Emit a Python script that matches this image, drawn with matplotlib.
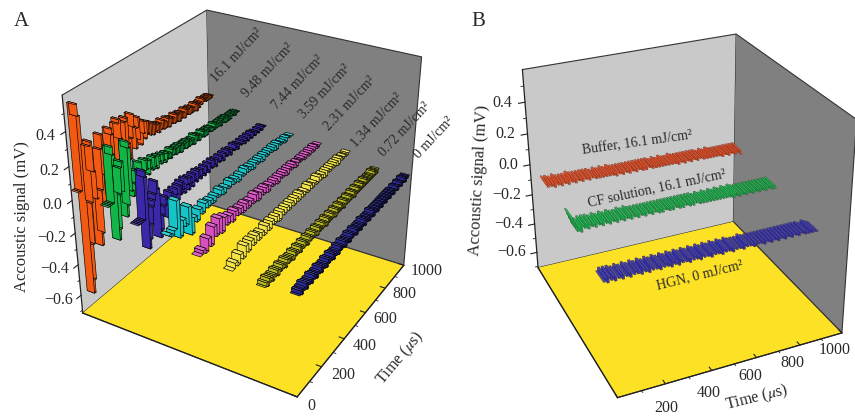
import numpy as np
import matplotlib
matplotlib.use("Agg")
import matplotlib.pyplot as plt
from matplotlib.transforms import ScaledTranslation
from mpl_toolkits.mplot3d import Axes3D
from mpl_toolkits.mplot3d.art3d import Poly3DCollection

plt.rcParams['font.family'] = ['Liberation Serif', 'DejaVu Serif']
plt.rcParams['mathtext.fontset'] = 'stix'
plt.rcParams['axes.unicode_minus'] = True

# ---------- data ----------
energy_labels = ['16.1 mJ/cm²', '9.48 mJ/cm²', '7.44 mJ/cm²', '3.59 mJ/cm²',
                 '2.31 mJ/cm²', '1.34 mJ/cm²', '0.72 mJ/cm²', '0 mJ/cm²']
colors_a = ['#f25a14', '#12b548', '#3a28a8', '#16c4c8', '#d84fc0', '#f2e445', '#b9b81e', '#2c2a9c']

sig_161 = [.06,.06,.55,.48,-.60,-.52,-.30,-.05,.28,.30,.12,-.05,-.35,-.28,-.02,.22,.30,.22,.05,-.15,-.10,.10,.30,.26,.10,
           -.05,.08,.30,.32,.20,.02,.10,.28,.30,.14,.04,.16,.30,.22,.08,.20,.26,.12,.08,.22,.14,.10,.20,.12,.18,
           .10,.17,.09,.15,.10,.14,.08,.13,.09,.14,.08,.12,.08,.13,.07,.12,.08,.11,.07,.12,.07,.11,.06,.11,.07,
           .10,.06,.11,.07,.10,.06,.10,.06,.09,.06,.10,.05,.09,.06,.09,.07,.10,.08,.09,.07,.09,.07,.09,.07,.08]
sig_948 = [.03,.03,.03,.03,.35,.30,-.21,-.15,.05,.20,.23,.05,-.11,-.05,.32,.28,.02,-.02,.05,.12,.06,.02,.15,.10,.03,
           .08,.14,.08,.04,.12,.07,.05,.12,.06,.04,.11,.07,.05,.10,.06,.04,.09,.05,.08,.04,.09,.05,.08,.04,.08,
           .04,.08,.03,.07,.04,.07,.03,.07,.03,.06,.03,.06,.02,.07,.03,.06,.02,.05,.03,.06,.02,.05,.02,.05,.03,
           .05,.02,.04,.02,.05,.02,.04,.02,.04,.01,.04,.02,.04,.01,.04,.01,.03,.01,.03,.02,.03,.01,.03,.02,.02]
sig_744 = [-.02,-.02,-.02,-.02,-.02,.26,.22,-.21,-.16,-.08,.02,.05,.08,.15,.10,-.20,-.16,-.08,-.03,.02,.00,-.12,-.06,.02,-.03,
           -.08,.02,-.02,-.06,.02,-.04,.03,-.02,-.05,.03,-.01,-.05,.02,-.02,-.05,.02,-.02,-.04,.02,-.02,-.04,.01,-.02,-.04,.01,
           -.02,-.04,.01,-.02,-.03,.01,-.02,-.04,.00,-.02,-.03,.00,-.02,-.04,.00,-.02,-.03,.00,-.02,-.04,-.01,-.02,-.03,.00,-.02,
           -.04,-.01,-.02,-.03,-.01,-.02,-.04,-.01,-.03,-.04,-.01,-.03,-.04,-.01,-.03,-.04,-.02,-.03,-.04,-.02,-.03,-.04,-.02,-.03,-.03]
sig_359 = [-.02,-.04,-.02,.14,-.09,.00,-.05,.05,-.13,-.04,-.08,-.02,-.06,-.01,-.05,-.02,-.05,-.02,-.04,-.01,-.05,-.02,-.04,-.01,
           -.04,-.02,-.05,-.02,-.04,-.01,-.04,-.02,-.05,-.02,-.04,-.02,-.05,-.02,-.04,-.02,-.04,-.02,-.05,-.02,-.04,-.03,-.05,-.03,-.04,-.04]
sig_231 = [-.08,-.06,-.09,-.02,-.08,.02,-.05,.04,-.06,.02,-.04,.00,-.05,.00,-.04,-.01,-.05,-.01,-.05,-.02,-.05,-.01,-.06,-.02,
           -.05,-.02,-.06,-.03,-.05,-.03,-.06,-.03,-.05,-.03,-.06,-.03,-.05,-.03,-.06,-.04,-.05,-.04,-.06,-.04,-.06,-.04,-.06,-.04,-.06,-.05]
sig_134 = [-.10,-.07,-.10,-.05,-.09,-.03,-.08,-.03,-.07,-.03,-.07,-.04,-.07,-.03,-.07,-.03,-.06,-.03,-.07,-.03,-.06,-.03,-.06,-.03,
           -.06,-.03,-.06,-.03,-.06,-.04,-.06,-.03,-.06,-.04,-.06,-.03,-.06,-.04,-.07,-.04,-.06,-.04,-.06,-.04,-.07,-.04,-.06,-.05,-.06,-.05]
sig_072 = [-.13,-.11,-.14,-.10,-.13,-.11,-.14,-.11,-.13,-.10,-.14,-.11,-.13,-.10,-.13,-.11,-.14,-.10,-.13,-.11,
           -.13,-.11,-.14,-.10,-.13,-.11,-.13,-.10,-.14,-.11,-.13,-.10,-.13,-.11,-.14,-.10,-.13,-.11,-.13,-.10,
           -.13,-.11,-.14,-.10,-.13,-.11,-.13,-.10,-.13,-.11,-.14,-.10,-.13,-.11,-.13,-.10,-.13,-.11,-.14,-.10,
           -.13,-.11,-.13,-.10,-.13,-.11,-.14,-.10,-.13,-.11,-.13,-.10,-.13,-.11,-.13,-.10,-.14,-.11,-.13,-.10,
           -.13,-.11,-.13,-.10,-.13,-.11,-.13,-.10,-.13,-.11,-.13,-.11,-.13,-.11,-.13,-.10,-.13,-.11,-.13,-.11]
sig_000 = [-.11,-.09,-.12,-.09,-.11,-.08,-.12,-.09,-.11,-.09,-.12,-.08,-.11,-.09,-.12,-.09,-.11,-.08,-.12,-.09,
           -.11,-.09,-.12,-.08,-.11,-.09,-.11,-.08,-.12,-.09,-.11,-.09,-.12,-.08,-.11,-.09,-.11,-.08,-.12,-.09,
           -.11,-.09,-.12,-.08,-.11,-.09,-.11,-.08,-.12,-.09,-.11,-.09,-.12,-.09,-.11,-.08,-.12,-.09,-.11,-.09,
           -.12,-.09,-.11,-.08,-.12,-.09,-.11,-.09,-.12,-.09,-.11,-.09,-.12,-.09,-.11,-.09,-.12,-.09,-.11,-.09,
           -.12,-.09,-.11,-.09,-.12,-.10,-.11,-.09,-.12,-.10,-.11,-.09,-.12,-.10,-.11,-.09,-.12,-.10,-.11,-.10]
series_a = [sig_161, sig_948, sig_744, sig_359, sig_231, sig_134, sig_072, sig_000]
step_a = [9.8, 9.8, 9.8, 19.6, 19.6, 19.6, 9.8, 9.8]

labels_b = ['Buffer, 16.1 mJ/cm²', 'CF solution, 16.1 mJ/cm²', 'HGN, 0 mJ/cm²']
colors_b = ['#e04418', '#12ad46', '#2e2ca8']
depth_b = [0.08, 0.41, 0.77]
buffer_sig = [-.06,-.08,-.06,-.08,-.07,-.09,-.06,-.08,-.07,-.09,-.07,-.08,-.07,-.09,-.06,-.08,-.07,-.09,-.07,-.08,
              -.07,-.09,-.07,-.08,-.07,-.09,-.07,-.08,-.08,-.09,-.07,-.09,-.08,-.09,-.07,-.09,-.08,-.09,-.07,-.09,
              -.08,-.10,-.08,-.09,-.08,-.10,-.08,-.09,-.08,-.10,-.08,-.09,-.08,-.10,-.08,-.09,-.08,-.10,-.08,-.10,
              -.08,-.09,-.08,-.10,-.09,-.10,-.08,-.10,-.09,-.10,-.08,-.10,-.09,-.10,-.09,-.10,-.08,-.10,-.09,-.11,
              -.09,-.10,-.09,-.11,-.09,-.10,-.09,-.11,-.09,-.10,-.09,-.11,-.09,-.10,-.10,-.11,-.09,-.11,-.10,-.11,
              -.09,-.11,-.10,-.11,-.10,-.11,-.10,-.12,-.10,-.11,-.10,-.12,-.10,-.11,-.10,-.12,-.10,-.11,-.10,-.13]
cf_sig = [-.05,-.08,-.11,-.14,-.12,-.15,-.11,-.13,-.11,-.14,-.11,-.13,-.12,-.14,-.11,-.13,-.12,-.14,-.11,-.13,
          -.12,-.14,-.11,-.13,-.12,-.14,-.12,-.13,-.11,-.14,-.12,-.13,-.11,-.14,-.12,-.13,-.12,-.14,-.12,-.13,
          -.12,-.14,-.12,-.13,-.12,-.14,-.12,-.13,-.12,-.14,-.12,-.14,-.12,-.13,-.12,-.14,-.12,-.14,-.12,-.13,
          -.12,-.14,-.12,-.14,-.12,-.13,-.12,-.14,-.12,-.14,-.12,-.13,-.13,-.14,-.12,-.14,-.13,-.14,-.12,-.14,
          -.13,-.14,-.12,-.14,-.13,-.14,-.12,-.14,-.13,-.14,-.12,-.14,-.13,-.15,-.12,-.14,-.13,-.15,-.13,-.14,
          -.13,-.15,-.13,-.14,-.13,-.15,-.13,-.14,-.13,-.15,-.13,-.14,-.13,-.15,-.13,-.14,-.13,-.15,-.13,-.15]
hgn_sig = [-.17,-.15,-.18,-.15,-.17,-.15,-.18,-.16,-.17,-.15,-.18,-.16,-.17,-.15,-.18,-.16,-.17,-.15,-.17,-.16,
           -.18,-.15,-.17,-.16,-.18,-.15,-.17,-.16,-.17,-.15,-.18,-.16,-.17,-.15,-.17,-.16,-.18,-.15,-.17,-.16,
           -.18,-.15,-.17,-.16,-.17,-.15,-.18,-.16,-.17,-.15,-.17,-.16,-.18,-.15,-.17,-.16,-.17,-.15,-.18,-.16,
           -.17,-.15,-.17,-.16,-.18,-.15,-.17,-.16,-.17,-.15,-.18,-.16,-.17,-.16,-.17,-.16,-.18,-.15,-.17,-.16,
           -.17,-.16,-.18,-.16,-.17,-.16,-.17,-.16,-.18,-.16,-.17,-.16,-.18,-.16,-.17,-.16,-.18,-.16,-.17,-.16,
           -.18,-.16,-.17,-.16,-.18,-.16,-.17,-.16,-.18,-.16,-.17,-.16,-.18,-.17,-.18,-.16,-.18,-.17,-.18,-.18]
series_b = [buffer_sig, cf_sig, hgn_sig]
step_b = 7.9
start_b = 30

z_ticks = [-0.6, -0.4, -0.2, 0.0, 0.2, 0.4]
z_tick_labels = ['\u22120.6', '\u22120.4', '\u22120.2', '0.0', '0.2', '0.4']
z_minor = [-0.7, -0.5, -0.3, -0.1, 0.1, 0.3, 0.5]
t_ticks = [0, 200, 400, 600, 800, 1000]
t_minor = [100, 300, 500, 700, 900]

# ---------- layout / camera ----------
W, H = 855, 416
TXT = '#2a2a2a'
fig = plt.figure(figsize=(W / 100, H / 100), dpi=100, facecolor='white')


def fit_camera(pairs):
    """Fit a 3x4 projective camera from (box corner, pixel) pairs."""
    A = []
    for (x, y, z), (u, v) in pairs:
        A.append([x, y, z, 1, 0, 0, 0, 0, -u * x, -u * y, -u * z, -u])
        A.append([0, 0, 0, 0, x, y, z, 1, -v * x, -v * y, -v * z, -v])
    return np.linalg.svd(np.array(A))[2][-1].reshape(3, 4)


def make_panel(rect_px, xlim, zlim, corner_px):
    x0, x1 = xlim
    z0, z1 = zlim
    pairs = [((x0, 0, z0), corner_px[0]), ((x1, 0, z0), corner_px[1]),
             ((x1, 1000, z0), corner_px[2]), ((x0, 1000, z0), corner_px[3]),
             ((x0, 0, z1), corner_px[4]), ((x0, 1000, z1), corner_px[5]),
             ((x1, 1000, z1), corner_px[6])]
    # normalise so conditioning is good
    S = np.diag([1 / (x1 - x0), 1 / 1000, 1 / (z1 - z0), 1.0])
    S[0, 3] = -x0 / (x1 - x0)
    S[2, 3] = -z0 / (z1 - z0)
    npairs = [((S @ np.array([*p, 1]))[:3], q) for p, q in pairs]
    P = fit_camera(npairs) @ S
    if (P @ np.array([x0, 0, z0, 1]))[2] < 0:
        P = -P
    left, top, right, bottom = rect_px
    ax = fig.add_axes([left / W, 1 - bottom / H, (right - left) / W, (bottom - top) / H],
                      projection='3d', computed_zorder=False)
    ax.set_autoscale_on(False)
    ax.set_xlim(x0, x1, view_margin=0)
    ax.set_ylim(0, 1000, view_margin=0)
    ax.set_zlim(z0, z1, view_margin=0)
    ax.patch.set_visible(False)
    ax.apply_aspect = lambda position=None: None

    def get_proj():
        vl = ax.viewLim
        su = (vl.x1 - vl.x0) / (right - left)
        sv = (vl.y1 - vl.y0) / (bottom - top)
        row_u = su * P[0] + (vl.x0 - su * left) * P[2]
        row_v = -sv * P[1] + (vl.y0 + sv * bottom) * P[2]
        return np.array([row_u, row_v, [0, 0, 0, -1.0], P[2]])
    ax.get_proj = get_proj

    ax.grid(False)
    ax.set_xticks([])
    ax.set_yticks(t_ticks)
    ax.set_zticks(z_ticks)
    ax.set_zticklabels(z_tick_labels)
    ax.xaxis.set_pane_color('#c9c9c9')
    ax.yaxis.set_pane_color('#808080')
    ax.zaxis.set_pane_color('#fde125')
    for axis in (ax.xaxis, ax.yaxis, ax.zaxis):
        axis.pane.set_edgecolor('#333333')
        axis.pane.set_linewidth(0.8)
        axis.line.set_color('#222222')
        axis.line.set_linewidth(0.9)
    ax.yaxis._get_tickdir = lambda *a: 0
    ax.zaxis._get_tickdir = lambda *a: 1
    # the signal axis stands on the near edge of the light wall
    ax.zaxis._get_axis_line_edge_points = lambda minmax, maxmin, position=None: (
        np.array([x0, 0.0, z0]), np.array([x0, 0.0, z1]))
    for axis, f in ((ax.yaxis, 0.28), (ax.zaxis, -0.35)):
        axis._axinfo['tick']['outward_factor'] = f
        axis._axinfo['tick']['inward_factor'] = 0
        axis._axinfo['tick']['linewidth'] = {True: 0.8, False: 0.6}
        axis._axinfo['tick']['color'] = '#222222'
    ax.tick_params(labelsize=11.5, labelcolor=TXT, colors='#222222')
    # minor ticks
    for tv in t_minor:
        ax.plot([x1, x1 + (x1 - x0) * 0.012], [tv, tv], [z0, z0], color='#222222', lw=0.6, zorder=1)
    for zv in z_minor:
        ax.plot([x0, x0], [0, -12], [zv, zv], color='#222222', lw=0.6, zorder=1)
    return ax


def shift_labels(ax, axis, dx, dy, ha, va):
    """Nudge tick labels (one offset or one per tick, in pixels);
    Axis3D re-sets tick transforms whenever ticks are fetched."""
    original = axis.get_major_ticks

    def get_major_ticks(numticks=None):
        ticks = original(numticks)
        n = len(ticks)
        dxs = dx if np.ndim(dx) else [dx] * n
        dys = dy if np.ndim(dy) else [dy] * n
        for tk, a, b in zip(ticks, dxs, dys):
            tk.label1.set_ha(ha)
            tk.label1.set_va(va)
            tk.label1.set_transform(ax.transData + ScaledTranslation(a / 100, b / 100, fig.dpi_scale_trans))
        return ticks
    axis.get_major_ticks = get_major_ticks


def ribbon(ax, x, step, vals, width, color, lw=0.4, zorder=5, t0=0, edge='black'):
    x0, x1 = x - width / 2, x + width / 2
    verts, faces = [], []
    rgb = np.array(matplotlib.colors.to_rgb(color))
    light = tuple(rgb + (1 - rgb) * 0.12)
    for i, v in enumerate(vals):
        t = t0 + i * step
        verts.append([(x0, t, v), (x1, t, v), (x1, t + step, v), (x0, t + step, v)])
        faces.append(light)
        if i + 1 < len(vals):
            w = vals[i + 1]
            verts.append([(x0, t + step, v), (x1, t + step, v), (x1, t + step, w), (x0, t + step, w)])
            faces.append(tuple(rgb))
    pc = Poly3DCollection(verts, facecolors=faces, edgecolors=edge, linewidths=lw,
                          zsort='average', zorder=zorder)
    ax.add_collection3d(pc, autolim=False)


# ---------- panel A ----------
ax_a = make_panel((0, 0, 430, 416), (-0.15, 7.15), (-0.72, 0.60),
                  [(83, 313), (297, 397), (404, 265), (210.5, 205), (62, 95), (207, 10), (421.5, 57)])
for i, (vals, c, st) in enumerate(zip(series_a, colors_a, step_a)):
    ribbon(ax_a, i, st, vals, 0.28, c, lw=0.45, zorder=5 + i)
shift_labels(ax_a, ax_a.yaxis, -7, 13, 'left', 'center')
shift_labels(ax_a, ax_a.zaxis, 17, -1, 'right', 'center')

# ---------- panel B ----------
ax_b = make_panel((430, 0, 855, 416), (0.0, 1.0), (-0.71, 0.60),
                  [(538, 267), (618, 398), (842, 333), (733, 222), (522, 70), (737, 34), (856, 119)])
for i, (x, vals, c) in enumerate(zip(depth_b, series_b, colors_b)):
    ribbon(ax_b, x, step_b, vals, 0.09, c, lw=0.12, zorder=5 + i, t0=start_b, edge='#302020')
shift_labels(ax_b, ax_b.yaxis, [5, -7, -11, -14, -16, -16], [9, 10, 11, 14, 14, 15], 'center', 'top')
shift_labels(ax_b, ax_b.zaxis, 9, -4, 'right', 'center')

# ---------- annotations ----------
def label(px, py, s, size=10, rot=0):
    fig.text(px / W, 1 - py / H, s, fontsize=size, rotation=rot, color=TXT,
             ha='center', va='center', rotation_mode='anchor')

label(21, 22, 'A', 15)
label(478, 21, 'B', 15)
for (px, py), s in zip([(237, 55), (268, 70), (298, 82), (325, 92), (350, 103), (377, 120), (405, 130), (434, 138)],
                       energy_labels):
    label(px, py, s, 10, 47)
label(21.5, 217, 'Accoustic signal (mV)', 12, 90)
label(479, 180, 'Accoustic signal (mV)', 12, 87)
label(400, 358, 'Time ($\\mu$s)', 11.5, 50)
label(757, 398, 'Time ($\\mu$s)', 11.5, 14)
for (px, py), s, r in zip([(637, 143), (657, 188), (700, 275)], labels_b, [8, 12, 14]):
    label(px, py, s, 10, r)

fig.savefig('out.png', dpi=100)
